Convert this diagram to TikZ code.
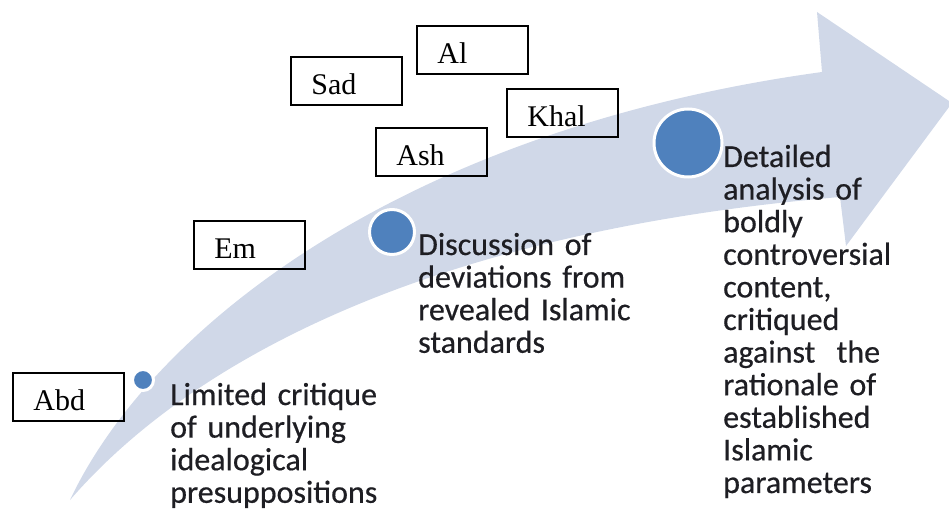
\documentclass[tikz,border=0pt]{standalone}
\usepackage{fontspec}
\setmainfont{Liberation Serif}
\newfontfamily\calib[FakeBold=0.5]{Carlito}
\definecolor{arrowfill}{RGB}{208,216,232}
\definecolor{dotblue}{RGB}{79,129,189}
\definecolor{txtc}{RGB}{30,30,35}
\begin{document}
\begin{tikzpicture}[x=1pt,y=-1pt,
  namebox/.style={draw=black, line width=1.7pt, rectangle, anchor=north west,
    text width=70pt, inner xsep=20.5pt, inner ysep=0pt, minimum height=48pt,
    text height=28pt, text depth=0pt, align=left,
    font=\fontsize{30}{32}\selectfont},
  dot/.style={circle, fill=dotblue, draw=white, line width=3pt, inner sep=0pt},
  desc/.style={anchor=base west, align=left, inner sep=0pt, text width=240pt,
    text=txtc, font=\calib\fontsize{32}{32.6}\selectfont}]
\useasboundingbox (0,0) rectangle (949,510);
% curved arrow
\fill[arrowfill] (70,500) .. controls (150,330) and (400,130) .. (822,72)
  -- (817,12) -- (952,103) -- (846,246) -- (840,197)
  .. controls (450,230) and (200,350) .. (70,500) -- cycle;
% dots
\node[dot, minimum size=21pt] (c1) at (143,380) {};
\node[dot, minimum size=45pt] (c2) at (392,232) {};
\node[dot, minimum size=68pt] (c3) at (688,143) {};
% descriptions
\node[desc] (t1) at (170,405) {Limited critique\\of underlying\\idealogical\\presuppositions};
\node[desc] (t2) at (418,255) {Discussion of\\deviations from\\revealed Islamic\\standards};
\node[desc] (t3) at (723,167) {Detailed\\analysis of\\boldly\\controversial\\content,\\critiqued\\against\ \ the\\rationale of\\established\\Islamic\\parameters};
% name boxes
\node[namebox] (abd) at (12,372) {Abd};
\node[namebox] (em) at (193,220) {Em};
\node[namebox] (sad) at (290,56) {Sad};
\node[namebox] (al) at (416,25) {Al};
\node[namebox] (khal) at (506,88) {Khal};
\node[namebox] (ash) at (375,127) {Ash};
\end{tikzpicture}
\end{document}
